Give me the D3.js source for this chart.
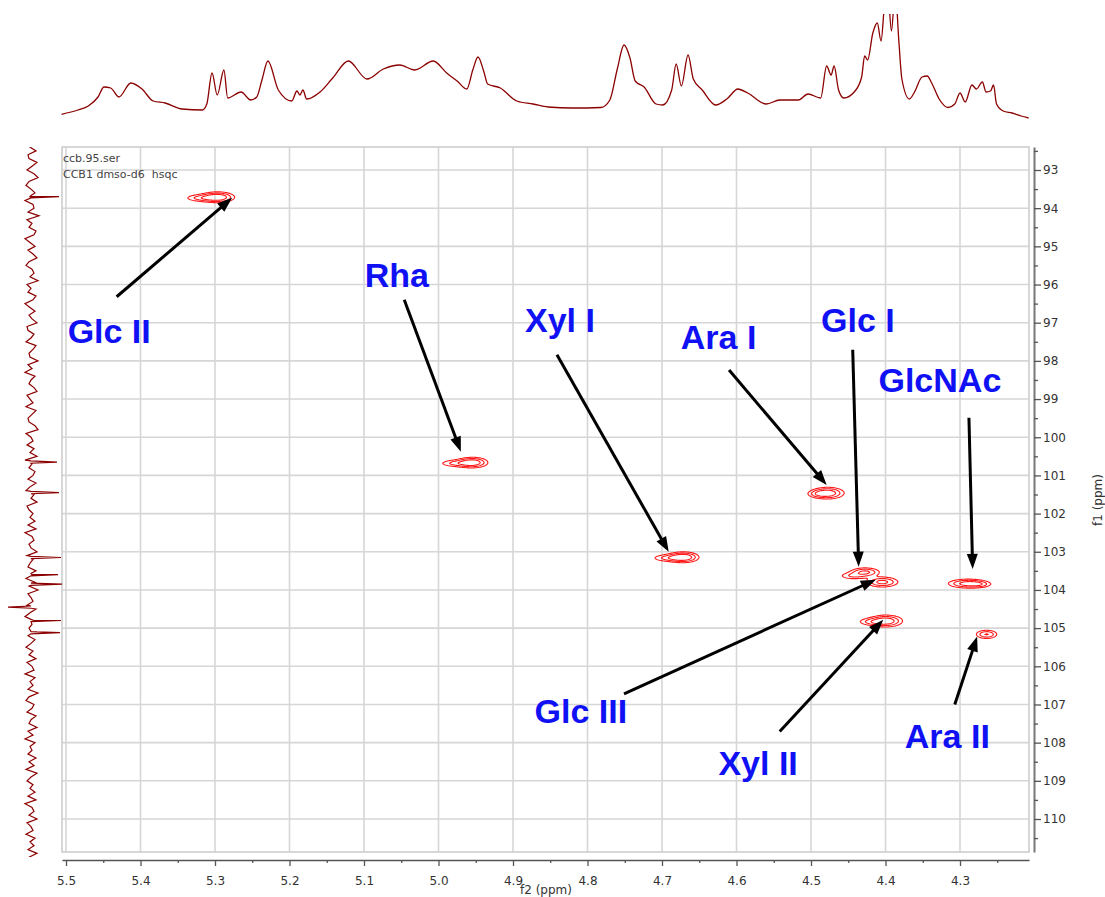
<!DOCTYPE html>
<html>
<head>
<meta charset="utf-8">
<script src="https://cdn.jsdelivr.net/npm/d3@7"></script>
<style>
  body { margin: 0; background: #fff; }
  svg { display: block; }
  text { white-space: pre; }
</style>
</head>
<body>
<svg id="chart" width="1105" height="897"></svg>
<script>
// ---- axis ticks ----
const f2TickValues = [5.5, 5.4, 5.3, 5.2, 5.1, 5.0, 4.9, 4.8, 4.7, 4.6, 4.5, 4.4, 4.3];
const f2TickLabels = ["5.5", "5.4", "5.3", "5.2", "5.1", "5.0", "4.9", "4.8", "4.7", "4.6", "4.5", "4.4", "4.3"];
const f2MinorTicks = [5.45, 5.35, 5.25, 5.15, 5.05, 4.95, 4.85, 4.75, 4.65, 4.55, 4.45, 4.35, 4.25];
const f1TickValues = [93, 94, 95, 96, 97, 98, 99, 100, 101, 102, 103, 104, 105, 106, 107, 108, 109, 110];
const f1TickLabels = ["93", "94", "95", "96", "97", "98", "99", "100", "101", "102", "103", "104", "105", "106", "107", "108", "109", "110"];
const f1MinorTicks = [92.5, 93.5, 94.5, 95.5, 96.5, 97.5, 98.5, 99.5, 100.5, 101.5, 102.5, 103.5, 104.5, 105.5, 106.5, 107.5, 108.5, 109.5, 110.5];

// ---- 1H projection (f2 ppm, intensity) ----
const hPpm = [5.506, 5.484, 5.470, 5.457, 5.449, 5.440, 5.429, 5.413, 5.398, 5.383, 5.367, 5.344, 5.317, 5.311, 5.304, 5.297, 5.288, 5.283, 5.265, 5.252,
  5.244, 5.237, 5.229, 5.215, 5.197, 5.190, 5.186, 5.182, 5.177, 5.159, 5.142, 5.121, 5.096, 5.074, 5.052, 5.032, 5.007, 4.989, 4.975, 4.962,
  4.954, 4.947, 4.939, 4.934, 4.917, 4.895, 4.873, 4.853, 4.820, 4.782, 4.770, 4.760, 4.751, 4.743, 4.736, 4.724, 4.708, 4.699, 4.687, 4.681,
  4.674, 4.665, 4.658, 4.646, 4.628, 4.613, 4.598, 4.585, 4.560, 4.542, 4.517, 4.504, 4.487, 4.479, 4.473, 4.469, 4.463, 4.456, 4.442, 4.432,
  4.428, 4.424, 4.417, 4.411, 4.406, 4.401, 4.397, 4.392, 4.387, 4.382, 4.378, 4.368, 4.361, 4.351, 4.344, 4.338, 4.328, 4.316, 4.307, 4.300,
  4.293, 4.284, 4.278, 4.270, 4.265, 4.259, 4.255, 4.251, 4.242, 4.230, 4.218, 4.208];
const hInt = [5.7, 10, 14, 23, 33, 32, 23, 37, 31, 19, 17, 11, 10, 16, 47, 25, 50, 22, 28, 20,
  23, 40, 59, 30, 19, 29, 25, 30, 21, 28, 42, 59, 41, 51, 55, 50, 59, 47, 39, 31,
  50, 63, 48, 36, 32, 19, 16, 13, 12, 12.5, 20, 51, 75, 62, 39, 33, 16, 15, 30, 56,
  34, 65, 41, 30, 15, 21, 31, 27, 16, 20, 20, 26, 22, 54, 45, 54, 30, 22, 28, 43,
  64, 60, 87, 97, 79, 118, 130, 89, 130, 78, 41, 21, 28, 43, 44, 37, 21, 12.5, 16, 27,
  18, 35, 31, 38, 28, 29, 35, 16, 9, 7, 4, 2];

// ---- 13C projection: digitized baseline (offset + step) and peaks ----
const c13Start = 92.3;
const c13Step = 0.1;
const c13Baseline = [
  2, -1, 5, -3, -2, 6, 1, -4, 3, 7, -2, -5, 0, 4, -1, -6, 2, 3, -3, 8,
  -4, 1, -2, 5, 3, -6, -1, 4, -3, 2, 6, -2, -5, 1, 3, -1, 7, -4, 0, -3,
  5, 2, -6, -1, 4, -2, 1, 6, -4, -3, 3, 0, -5, 5, 2, -2, -1, 7, -3, 1,
  -6, 4, 0, -2, 3, 6, -4, -1, 2, -5, 5, 1, -3, -2, 4, 7, -5, 0, 2, -4,
  3, -1, 6, -6, 1, -2, 4, 2, -3, 5, -1, -5, 3, 0, 6, -4, -2, 2, -1, 4,
  -3, 5, -6, 1, 3, -2, 0, 6, -4, 2, -1, -3, 5, 1, -5, 4, -2, 7, -3, 0,
  2, -4, 5, -1, -6, 3, 1, -2, 6, -3, 4, 0, -5, 2, -2, 5, -4, 1, 3, -6,
  4, -1, 2, -3, 7, -2, -5, 3, 1, -4, 5, 0, -2, 6, -3, 2, -6, 4, -1, 1,
  -3, 5, -2, 3, -5, 6, 0, -4, 2, -1, 4, -3, 5, -6, 1, 3, -2, 6, -4, 0,
  2, -5, 4, -1, 3, -3, 6, -2, -4, 5];
const c13PeakPpm = [93.7, 100.65, 101.45, 103.15, 103.6, 103.85, 104.45, 104.8, 105.12];
const c13PeakHeight = [28, 26, 28, 30, 27, 31, -23, 30, 29];

// ---- HSQC cross-peak components: [f2 ppm, f1 ppm, width f2, width f1, amplitude] ----
const hsqcComponents = [
  [5.297, 93.70, 0.013, 0.08, 1.0],   [5.320, 93.72, 0.014, 0.06, 0.45],   // Glc II
  [4.955, 100.65, 0.012, 0.08, 0.95], [4.978, 100.67, 0.014, 0.06, 0.45],  // Rha
  [4.672, 103.13, 0.012, 0.08, 1.0],  [4.693, 103.15, 0.014, 0.06, 0.45],  // Xyl I
  [4.478, 101.45, 0.013, 0.09, 0.9],  [4.490, 101.47, 0.010, 0.06, 0.35],  // Ara I
  [4.428, 103.52, 0.012, 0.07, 0.75], [4.445, 103.62, 0.012, 0.06, 0.4],   // Glc I
  [4.405, 103.78, 0.013, 0.08, 0.8],                                       // Glc III
  [4.400, 104.80, 0.013, 0.09, 0.95], [4.420, 104.82, 0.012, 0.06, 0.4],   // Xyl II
  [4.290, 103.82, 0.016, 0.07, 0.85], [4.275, 103.84, 0.010, 0.05, 0.3],   // GlcNAc
  [4.265, 105.15, 0.009, 0.07, 0.7]                                        // Ara II
];
const contourLevels = [0.22, 0.42, 0.68];

// ---- assignments: label anchor and arrow (start -> tip), all in ppm ----
const labelNames  = ["Glc II", "Rha", "Xyl I", "Ara I", "Glc I", "GlcNAc", "Glc III", "Xyl II", "Ara II"];
const labelF2     = [5.442, 5.056, 4.837, 4.624, 4.437, 4.327, 4.809, 4.571, 4.317];
const labelF1     = [97.53, 96.06, 97.24, 97.69, 97.24, 98.81, 107.48, 108.84, 108.13];
const arrowFromF2 = [5.432, 5.046, 4.841, 4.610, 4.444, 4.288, 4.751, 4.542, 4.307];
const arrowFromF1 = [96.32, 96.40, 97.84, 98.24, 97.71, 99.49, 106.72, 107.71, 107.00];
const arrowToF2   = [5.277, 4.970, 4.691, 4.479, 4.436, 4.283, 4.413, 4.403, 4.277];
const arrowToF1   = [93.73, 100.38, 103.00, 101.25, 103.39, 103.45, 103.73, 104.78, 105.22];

// ---- layout ----
const svg = d3.select("#chart");
const frame = { left: 62, right: 1029, top: 147, bottom: 852 };

const xRef = d3.scaleLinear().domain([5.5, 4.3]).range([66, 960]);
const yRef = d3.scaleLinear().domain([93, 110]).range([170, 819]);
const x = d3.scaleLinear()
  .domain([xRef.invert(frame.left), xRef.invert(frame.right)])
  .range([frame.left, frame.right]);
const y = d3.scaleLinear()
  .domain([yRef.invert(frame.top), yRef.invert(frame.bottom)])
  .range([frame.top, frame.bottom]);

// grid
const grid = svg.append("g").attr("stroke", "#d6d6d6").attr("stroke-width", 1.6);
grid.selectAll("line.v").data(f2TickValues).join("line").attr("class", "v")
  .attr("x1", d => x(d)).attr("x2", d => x(d))
  .attr("y1", frame.top).attr("y2", frame.bottom);
grid.selectAll("line.h").data(f1TickValues).join("line").attr("class", "h")
  .attr("x1", frame.left).attr("x2", frame.right)
  .attr("y1", d => y(d)).attr("y2", d => y(d));
svg.append("rect")
  .attr("x", frame.left).attr("y", frame.top)
  .attr("width", frame.right - frame.left).attr("height", frame.bottom - frame.top)
  .attr("fill", "none").attr("stroke", "#cdcdcd").attr("stroke-width", 1.6);

// cross-peak contours
const W = frame.right - frame.left, H = frame.bottom - frame.top;
const field = new Float64Array(W * H);
hsqcComponents.forEach(([h, c, wh, wc, a]) => {
  const cx = x(h) - frame.left, cy = y(c) - frame.top;
  const sx = Math.abs(x(h + wh) - x(h)), sy = Math.abs(y(c + wc) - y(c));
  const i0 = Math.max(0, Math.floor(cx - 5 * sx)), i1 = Math.min(W - 1, Math.ceil(cx + 5 * sx));
  const j0 = Math.max(0, Math.floor(cy - 5 * sy)), j1 = Math.min(H - 1, Math.ceil(cy + 5 * sy));
  for (let j = j0; j <= j1; j++) {
    const ty = (j - cy) / sy;
    for (let i = i0; i <= i1; i++) {
      const tx = (i - cx) / sx;
      field[j * W + i] += a * Math.exp(-0.5 * (tx * tx + ty * ty));
    }
  }
});
const contours = d3.contours().size([W, H]).thresholds(contourLevels)(field);
svg.append("g")
  .attr("transform", `translate(${frame.left},${frame.top})`)
  .selectAll("path").data(contours).join("path")
  .attr("d", d3.geoPath())
  .attr("fill", "none")
  .attr("stroke", "#ff1a1a")
  .attr("stroke-width", 1.1);

// assignment arrows
const arrows = svg.append("g");
labelNames.forEach((name, i) => {
  const x1 = x(arrowFromF2[i]), y1 = y(arrowFromF1[i]);
  const x2 = x(arrowToF2[i]), y2 = y(arrowToF1[i]);
  const L = Math.hypot(x2 - x1, y2 - y1), ux = (x2 - x1) / L, uy = (y2 - y1) / L;
  const headLen = 15, hw = 5.5;
  const bx = x2 - ux * headLen, by = y2 - uy * headLen;
  arrows.append("line")
    .attr("x1", x1).attr("y1", y1).attr("x2", bx + ux * 2).attr("y2", by + uy * 2)
    .attr("stroke", "#000").attr("stroke-width", 3);
  arrows.append("path")
    .attr("d", `M${x2},${y2}L${bx - uy * hw},${by + ux * hw}L${bx + uy * hw},${by - ux * hw}Z`)
    .attr("fill", "#000");
});

// assignment labels
svg.append("g").selectAll("text").data(labelNames).join("text")
  .attr("x", (d, i) => x(labelF2[i]))
  .attr("y", (d, i) => y(labelF1[i]))
  .attr("text-anchor", "middle")
  .attr("font-family", "'Liberation Sans', Arial, sans-serif")
  .attr("font-weight", "bold")
  .attr("font-size", 34)
  .attr("fill", "#1010f4")
  .text(d => d);

// dataset caption
const cap = svg.append("g")
  .attr("font-family", "'DejaVu Sans', Verdana, sans-serif")
  .attr("font-size", 11).attr("fill", "#444");
cap.append("text").attr("x", 63).attr("y", 162).text("ccb.95.ser");
cap.append("text").attr("x", 63).attr("y", 178).text("CCB1 dmso-d6  hsqc");

// f2 axis (bottom)
const axisFont = "'DejaVu Sans', Verdana, sans-serif";
const bottom = svg.append("g").attr("transform", "translate(0,860)")
  .call(d3.axisBottom(x).tickValues(f2TickValues)
    .tickFormat((d, i) => f2TickLabels[i])
    .tickSize(6).tickSizeOuter(0).tickPadding(10));
bottom.select(".domain").attr("stroke", "#555").attr("stroke-width", 1.3);
bottom.selectAll(".tick line").attr("stroke", "#555").attr("stroke-width", 1.3);
bottom.selectAll(".tick text").attr("font-family", axisFont).attr("font-size", 12).attr("fill", "#333");
const bottomMinor = svg.append("g").attr("transform", "translate(0,860)")
  .call(d3.axisBottom(x).tickValues(f2MinorTicks).tickFormat("").tickSize(3).tickSizeOuter(0));
bottomMinor.select(".domain").remove();
bottomMinor.selectAll(".tick line").attr("stroke", "#555").attr("stroke-width", 1.3);

svg.append("text").attr("x", 520).attr("y", 894)
  .attr("font-family", axisFont).attr("font-size", 12).attr("fill", "#333")
  .text("f2 (ppm)");

// f1 axis (right)
const right = svg.append("g").attr("transform", "translate(1034,0)")
  .call(d3.axisRight(y).tickValues(f1TickValues)
    .tickFormat((d, i) => f1TickLabels[i])
    .tickSize(7).tickSizeOuter(0).tickPadding(2));
right.select(".domain").attr("stroke", "#777").attr("stroke-width", 2);
right.selectAll(".tick line").attr("stroke", "#555").attr("stroke-width", 1.3);
right.selectAll(".tick text").attr("font-family", axisFont).attr("font-size", 12).attr("fill", "#333");
const rightMinor = svg.append("g").attr("transform", "translate(1034,0)")
  .call(d3.axisRight(y).tickValues(f1MinorTicks).tickFormat("").tickSize(4).tickSizeOuter(0));
rightMinor.select(".domain").remove();
rightMinor.selectAll(".tick line").attr("stroke", "#555").attr("stroke-width", 1.3);

svg.append("text").attr("transform", "translate(1102,500) rotate(-90)")
  .attr("text-anchor", "middle")
  .attr("font-family", axisFont).attr("font-size", 12).attr("fill", "#333")
  .text("f1 (ppm)");

// 1H projection (top)
const defs = svg.append("defs");
defs.append("clipPath").attr("id", "topClip").append("rect")
  .attr("x", 40).attr("y", 14).attr("width", 1010).attr("height", 120);
defs.append("clipPath").attr("id", "leftClip").append("rect")
  .attr("x", 0).attr("y", 147).attr("width", 70).attr("height", 710);

const yTop = d3.scaleLinear().domain([0, 105]).range([120, 15]);
svg.append("path")
  .datum(hPpm.map((p, i) => [p, hInt[i]]))
  .attr("clip-path", "url(#topClip)")
  .attr("d", d3.line().curve(d3.curveMonotoneX).x(d => x(d[0])).y(d => yTop(d[1])))
  .attr("fill", "none").attr("stroke", "#8b0000").attr("stroke-width", 1.3)
  .attr("stroke-linejoin", "round");

// 13C projection (left)
const xLeft = d3.scaleLinear().domain([0, 30]).range([31, 61]);
const c13Points = c13Baseline.map((v, i) => [c13Start + i * c13Step, v]);
c13PeakPpm.forEach((p, i) => {
  c13Points.push([p - 0.03, 0], [p, c13PeakHeight[i]], [p + 0.03, 0]);
});
c13Points.sort((a, b) => a[0] - b[0]);
svg.append("path")
  .datum(c13Points)
  .attr("clip-path", "url(#leftClip)")
  .attr("d", d3.line().x(d => xLeft(d[1])).y(d => y(d[0])))
  .attr("fill", "none").attr("stroke", "#8b0000").attr("stroke-width", 1.2);
</script>
</body>
</html>
